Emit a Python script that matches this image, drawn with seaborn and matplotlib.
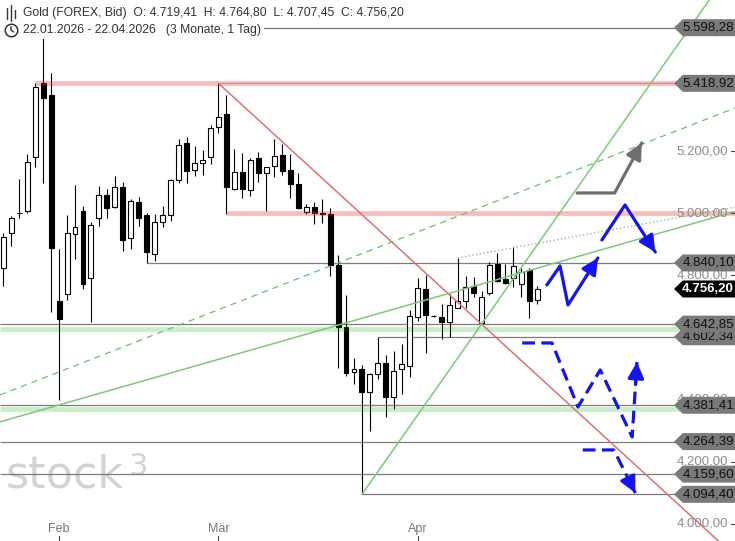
import numpy as np
import pandas as pd
import seaborn as sns
import matplotlib.pyplot as plt
import matplotlib.transforms as mtransforms
from matplotlib.patches import Polygon

# Gold (FOREX, Bid), daily candles 22.01.2026 - 22.04.2026
opens = [4823.9, 4936.7, 5000.0, 5007.5, 5181.6, 5420.1, 5381.4, 4717.5, 4740.1, 4933.4,
         5007.5, 4791.6, 4985.0, 5059.1, 5020.5, 5084.9, 4920.6, 5036.6, 4994.7, 4869.0,
         4972.1, 4994.7, 5107.5, 5226.7, 5139.7, 5162.3, 5181.6, 5278.3, 5320.2, 5078.5,
         5133.3, 5075.2, 5178.4, 5130.0, 5152.6, 5188.0, 5139.7, 5094.6, 5004.3, 5020.5,
         5001.1, 4997.9, 4833.5, 4633.7, 4488.7, 4498.4, 4424.2, 4482.3, 4517.7, 4408.1,
         4498.4, 4508.0, 4666.0, 4756.2, 4669.2, 4666.0, 4649.8, 4695.0, 4717.5, 4765.9,
         4645.0, 4743.3, 4836.7, 4788.4, 4791.6, 4772.3, 4817.4, 4719.41]
highs = [4936.7, 4991.5, 5110.7, 5191.3, 5420.1, 5598.28, 5452.3, 4885.1, 4994.7, 5091.4,
         5023.7, 4972.1, 5088.1, 5078.5, 5120.4, 5101.0, 5046.2, 5052.7, 5001.1, 4997.9,
         5023.7, 5110.0, 5239.6, 5246.0, 5217.0, 5204.2, 5284.7, 5418.92, 5381.4, 5207.4,
         5194.5, 5178.4, 5197.7, 5150.0, 5239.6, 5223.5, 5191.3, 5130.0, 5030.1, 5036.6,
         5046.2, 5017.2, 4865.8, 4736.8, 4533.8, 4511.2, 4485.5, 4602.34, 4543.5, 4556.4,
         4578.9, 4688.5, 4791.6, 4801.3, 4672.0, 4707.8, 4740.1, 4856.1, 4798.1, 4794.9,
         4749.8, 4843.2, 4872.2, 4836.7, 4891.5, 4823.8, 4823.8, 4764.80]
lows = [4765.9, 4894.8, 4985.0, 5001.1, 5149.4, 5097.8, 4682.1, 4398.5, 4720.7, 4852.9,
        4756.2, 4649.8, 4959.2, 4985.0, 5017.2, 4878.6, 4885.1, 4959.2, 4840.10, 4846.4,
        4956.0, 4975.3, 5097.8, 5097.8, 5120.4, 5123.6, 5159.0, 5258.9, 4997.0, 5075.2,
        5049.4, 5055.9, 5101.0, 5007.5, 5117.1, 5123.6, 5049.4, 5014.0, 4997.9, 4965.6,
        4968.9, 4798.1, 4501.6, 4475.8, 4450.0, 4094.40, 4298.6, 4466.1, 4343.7, 4369.5,
        4417.8, 4472.6, 4653.0, 4549.9, 4665.0, 4595.0, 4601.5, 4695.0, 4695.0, 4730.4,
        4642.85, 4736.8, 4778.8, 4772.3, 4762.6, 4730.4, 4662.7, 4707.45]
closes = [4923.8, 4985.0, 5002.0, 5165.5, 5407.2, 5371.7, 4888.3, 4659.5, 4936.7, 4956.0,
          4772.3, 4962.4, 5059.1, 5017.2, 5084.9, 4914.1, 5039.8, 4985.0, 4875.4, 4972.1,
          4994.7, 5107.5, 5220.3, 5136.5, 5162.3, 5171.9, 5275.1, 5310.5, 5084.9, 5133.3,
          5078.5, 5171.9, 5130.0, 5149.4, 5184.8, 5136.5, 5094.6, 5017.2, 5020.5, 5001.1,
          4997.9, 4833.5, 4633.7, 4485.5, 4498.4, 4424.2, 4482.3, 4517.7, 4408.1, 4491.9,
          4514.5, 4669.4, 4759.4, 4672.4, 4668.0, 4649.8, 4704.6, 4717.5, 4762.6, 4743.3,
          4730.4, 4833.5, 4782.0, 4775.5, 4830.3, 4810.9, 4717.5, 4756.20]

# weekdays plus the three Sunday sessions shown in March
dates = pd.bdate_range("2026-01-22", "2026-04-22").union(
    pd.to_datetime(["2026-03-08", "2026-03-15", "2026-03-22"]))
month_names = {2: "Feb", 3: "Mär", 4: "Apr"}

# horizontal marks: value, first day (None = whole width)
gray_levels = [5598.28, 4840.10, 4642.85, 4602.34, 4381.41, 4264.39, 4159.60, 4094.40]
gray_starts = ["2026-01-29", "2026-02-17", None, "2026-03-25", None, None, None, "2026-03-23"]
red_zones = [5418.92, 5000.00]
red_starts = ["2026-01-28", "2026-03-03"]
green_zones = [4626.0, 4369.5]
tag_levels = [5598.28, 5418.92, 4840.10, 4642.85, 4602.34, 4381.41, 4264.39, 4159.60, 4094.40]
axis_ticks = [5200, 5000, 4800, 4600, 4400, 4200, 4000]

# trend lines: two anchor points (candle no., price)
red_trend = [(27, 5418.92), (60, 4642.85)]
green_steep = [(45, 4094.40), (60, 4642.85)]
green_long = [(0, 4331.0), (60, 4772.0)]
green_dashed = [(0, 4418.7), (60, 5020.5)]
green_dotted = [(57, 4856.1), (80, 4964.4)]

# drawn scenario paths (candle no., price)
path_gray = [(72.0, 5065.6), (76.7, 5065.6), (80.1, 5226.7)]
path_up1 = [(68.2, 4769.1), (69.85, 4830.3), (70.85, 4704.6), (74.6, 4856.1)]
path_up2 = [(75.1, 4914.1), (78.0, 5026.9), (81.8, 4875.4)]
path_dash1 = [(65.1, 4582.2), (68.85, 4582.2), (72.1, 4375.9), (74.9, 4495.2),
              (78.9, 4279.2), (79.5, 4520.9)]
path_dash2 = [(72.7, 4237.4), (76.6, 4237.4), (79.3, 4098.7)]

df = pd.DataFrame({"date": dates, "open": opens, "high": highs, "low": lows, "close": closes})
df["x"] = np.arange(len(df))


def de(v):
    return f"{v:,.2f}".replace(",", "X").replace(".", ",").replace("X", ".")


def idx(day):
    return -1 if day is None else int(df.index[df.date == pd.Timestamp(day)][0])


sns.set_style("white")
plt.rcParams["font.family"] = ["Liberation Sans", "DejaVu Sans"]

fig = plt.figure(figsize=(7.35, 5.41), dpi=100)
ax = fig.add_axes([0, 0, 1, 1])
ax.set_xlim(-0.41, 91.8)
ax.set_ylim(3944.0, 5687.5)
ax.axis("off")
x0, x1 = ax.get_xlim()
ppu = 541 / (ax.get_ylim()[1] - ax.get_ylim()[0])   # pixels per price unit
axy = mtransforms.blended_transform_factory(ax.transAxes, ax.transData)
dxa = mtransforms.blended_transform_factory(ax.transData, ax.transAxes)

# watermark
ax.text(0.007, 0.098, "stock", transform=ax.transAxes, fontsize=32, color="#d3d3d3",
        family="DejaVu Sans", va="baseline", zorder=0)
ax.text(0.1755, 0.1645, "3", transform=ax.transAxes, fontsize=22, color="#d3d3d3",
        family="DejaVu Sans", va="top", zorder=0)

# gray levels
for v, s in zip(gray_levels, gray_starts):
    ax.hlines(v, x0 if s is None else idx(s), x1, color="#7c7c7c", lw=0.9, zorder=2)

# candles
up = df.close >= df.open
ax.vlines(df.x, df.low, df.high, color="black", lw=0.8, zorder=3)
body = (df.close - df.open).where((df.close - df.open).abs() > 1.5, 1.5)
ax.bar(df.x, body, bottom=df.open, width=0.62, color=np.where(up, "white", "black"),
       edgecolor="black", linewidth=0.8, zorder=4)

# zones on top, translucent
for v, s in zip(red_zones, red_starts):
    ax.hlines(v, idx(s), x1, color="#e83030", alpha=0.32, lw=3.4, zorder=5)
ax.hlines(red_zones[0], red_trend[0][0], x1, color="#d06060", alpha=0.6, lw=0.7, zorder=5)
for v in green_zones:
    ax.hlines(v, x0, x1, color="#00b400", alpha=0.22, lw=3.4, zorder=5)


def ray(pts, start, **kw):
    (xa, ya), (xb, yb) = pts
    k = (yb - ya) / (xb - xa)
    xs = np.array([start, x1])
    ax.plot(xs, ya + k * (xs - xa), zorder=6, **kw)


ray(red_trend, red_trend[0][0], color="#e07070", lw=1.1)
ray(green_steep, green_steep[0][0], color="#7cc87c", lw=1.1)
ray(green_long, x0, color="#7cc87c", lw=1.1)
ray(green_dashed, x0, color="#6cbf6c", lw=0.9, ls=(0, (5, 4)))
ray(green_dotted, green_dotted[0][0], color="#6cbf6c", lw=0.9, ls=(0, (1, 2)))


def path(pts, color, dashed=False):
    p = pd.DataFrame(pts, columns=["x", "y"])
    sns.lineplot(data=p, x="x", y="y", sort=False, estimator=None, ax=ax, color=color,
                 lw=2.3, ls=(0, (4, 2)) if dashed else "-", zorder=7)
    (xa, ya), (xb, yb) = pts[-2], pts[-1]
    ax.annotate("", xy=(xb, yb), xytext=(xb - 0.3 * (xb - xa), yb - 0.3 * (yb - ya)),
                arrowprops=dict(arrowstyle="-|>", mutation_scale=24, color=color, lw=2.3,
                                shrinkA=0, shrinkB=0), zorder=8)


path(path_gray, "#6e6e6e")
path(path_up1, "#1414f0")
path(path_up2, "#1414f0")
path(path_dash1, "#1414f0", dashed=True)
path(path_dash2, "#1414f0", dashed=True)

# right price axis
for t in axis_ticks:
    ax.text(0.9905, t, de(t), transform=axy, ha="right", va="center", fontsize=9.5,
            color="#8c8c8c", zorder=9)
    ax.plot([0.994, 1.0], [t, t], transform=axy, color="#444444", lw=0.8, zorder=9)


def tag(v, face, tc, z, weight="normal"):
    h = 8.5 / ppu
    poly = Polygon([(0.917, v), (0.929, v + h), (1.0, v + h), (1.0, v - h), (0.929, v - h)],
                   closed=True, transform=axy, facecolor=face, edgecolor="none", zorder=z)
    ax.add_patch(poly)
    ax.text(0.9635, v, de(v), transform=axy, ha="center", va="center", fontsize=9.5,
            color=tc, weight=weight, zorder=z + 0.5)


# higher levels sit on top of lower ones
for k, v in enumerate(sorted(tag_levels)):
    tag(v, "#7a7a7a", "#111111", 10 + k)
tag(closes[-1], "black", "white", 30, "bold")

# month ticks
firsts = df.groupby(df.date.dt.month).x.min()
for m, name in month_names.items():
    ax.text(firsts[m], 0.022, name, transform=dxa, ha="center", va="center",
            fontsize=9, color="#777777", family=["Liberation Sans Narrow", "Liberation Sans"])
    ax.plot([firsts[m], firsts[m]], [0, 0.009], transform=dxa, color="#444444", lw=0.8)

# header
head1 = (f"Gold (FOREX, Bid)  O: {de(opens[-1])}  H: {de(highs[-1])}  "
         f"L: {de(lows[-1])}  C: {de(closes[-1])}")
head2 = "22.01.2026 - 22.04.2026   (3 Monate, 1 Tag)"
ax.text(0.031, 1 - 13 / 541, head1, transform=ax.transAxes, va="center", fontsize=8.7,
        color="#333333", zorder=40)
ax.text(0.031, 1 - 30 / 541, head2, transform=ax.transAxes, va="center", fontsize=8.7,
        color="#333333", zorder=40,
        bbox=dict(boxstyle="square,pad=0.25", fc="white", ec="none"))
# small icons
for k, (lo, hi) in enumerate([(0.965, 0.985), (0.962, 0.990), (0.966, 0.982)]):
    ax.plot([0.009 + 0.0055 * k] * 2, [lo, hi], transform=ax.transAxes, color="#333333",
            lw=1.0, zorder=40)
ax.plot([0.015], [1 - 30 / 541], transform=ax.transAxes, marker="o", ms=9, mfc="none",
        mec="#333333", mew=1.1, zorder=40)
ax.plot([0.015, 0.015, 0.0185], [1 - 26.5 / 541, 1 - 30 / 541, 1 - 32 / 541],
        transform=ax.transAxes, color="#333333", lw=1.0, zorder=40)

fig.savefig("out.png", dpi=100)
